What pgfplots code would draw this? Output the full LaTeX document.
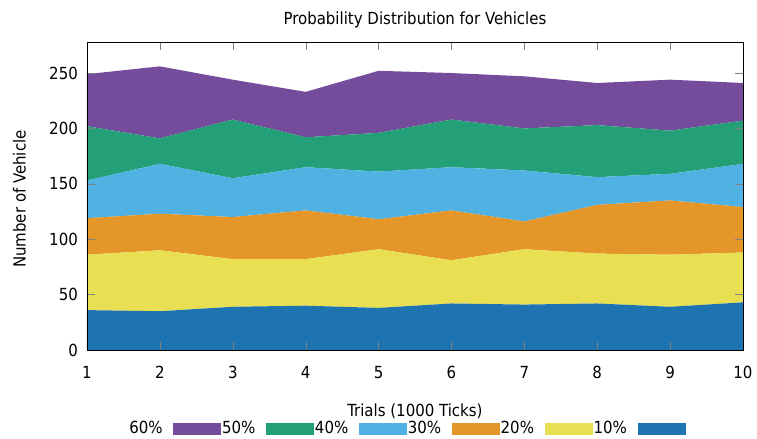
\documentclass[border=0pt]{standalone}
\usepackage{fontspec}
\setmainfont{DejaVu Sans Condensed}
\usepackage{pgfplots}
\pgfplotsset{compat=1.18}
\definecolor{cPurple}{HTML}{754B9B}
\definecolor{cGreen}{HTML}{24A078}
\definecolor{cLBlue}{HTML}{50B2E2}
\definecolor{cOrange}{HTML}{E49628}
\definecolor{cYellow}{HTML}{E9DF52}
\definecolor{cBlue}{HTML}{1E74B0}
\begin{document}
\fontsize{12.5}{15}\selectfont
\begin{tikzpicture}
\begin{axis}[
  at={(0,0)}, anchor=south west,
  scale only axis, width=492pt, height=231pt,
  xmin=1, xmax=10, ymin=0, ymax=278,
  xtick={1,...,10}, ytick={0,50,...,250},
  tick align=inside, major tick length=6pt,
  axis on top,
  stack plots=y,
  /pgf/number format/assume math mode=true,
  tick label style={font=\fontsize{12.5}{15}\selectfont},
  xticklabel style={yshift=-8pt},
  yticklabel style={xshift=-2.5pt},
  title={Probability Distribution for Vehicles},
  title style={at={(axis description cs:0.5,1.046)}, anchor=center},
  xlabel={Trials (1000 Ticks)},
  xlabel style={at={(axis description cs:0.5,-0.198)}, anchor=center},
  ylabel={Number of Vehicle},
  ylabel style={at={(axis description cs:-0.103,0.49)}, anchor=center},
  legend columns=-1,
  legend style={draw=none, fill=none, inner sep=0pt, at={(axis description cs:0.062,-0.255)}, anchor=west,
    column sep=0pt, nodes={inner xsep=1pt, inner ysep=1pt},
    /tikz/every even column/.append style={column sep=7pt}},
]
\addplot[draw=none, fill=cBlue, forget plot] coordinates {(1,36) (2,35) (3,39) (4,40) (5,38) (6,42) (7,41) (8,42) (9,39) (10,43)} \closedcycle;
\addplot[draw=none, fill=cYellow, forget plot] coordinates {(1,50) (2,55) (3,43) (4,42) (5,53) (6,39) (7,50) (8,45) (9,47) (10,45)} \closedcycle;
\addplot[draw=none, fill=cOrange, forget plot] coordinates {(1,33) (2,33) (3,38) (4,44) (5,27) (6,45) (7,25) (8,44) (9,49) (10,41)} \closedcycle;
\addplot[draw=none, fill=cLBlue, forget plot] coordinates {(1,34) (2,45) (3,35) (4,39) (5,43) (6,39) (7,46) (8,25) (9,24) (10,39)} \closedcycle;
\addplot[draw=none, fill=cGreen, forget plot] coordinates {(1,49) (2,23) (3,53) (4,27) (5,35) (6,43) (7,38) (8,47) (9,39) (10,39)} \closedcycle;
\addplot[draw=none, fill=cPurple, forget plot] coordinates {(1,47) (2,65) (3,36) (4,41) (5,56) (6,42) (7,47) (8,38) (9,46) (10,34)} \closedcycle;
\addlegendimage{legend image code/.code={}}
\addlegendentry{60\%}
\addlegendimage{legend image code/.code={\fill[cPurple] (0pt,-4.1pt) rectangle (35.25pt,4.1pt);}}
\addlegendentry{50\%}
\addlegendimage{legend image code/.code={\fill[cGreen] (0pt,-4.1pt) rectangle (35.25pt,4.1pt);}}
\addlegendentry{40\%}
\addlegendimage{legend image code/.code={\fill[cLBlue] (0pt,-4.1pt) rectangle (35.25pt,4.1pt);}}
\addlegendentry{30\%}
\addlegendimage{legend image code/.code={\fill[cOrange] (0pt,-4.1pt) rectangle (35.25pt,4.1pt);}}
\addlegendentry{20\%}
\addlegendimage{legend image code/.code={\fill[cYellow] (0pt,-4.1pt) rectangle (35.25pt,4.1pt);}}
\addlegendentry{10\%}
\addlegendimage{legend image code/.code={\fill[cBlue] (0pt,-4.1pt) rectangle (35.25pt,4.1pt);}}
\addlegendentry{}
\end{axis}
\pgfresetboundingbox
\useasboundingbox (-65.25pt,-66.75pt) rectangle (502.5pt,262.5pt);
\end{tikzpicture}
\end{document}
